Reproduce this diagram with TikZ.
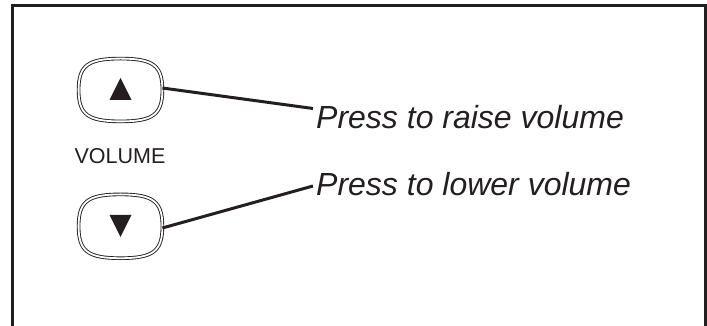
\documentclass[tikz,border=0pt]{standalone}
\usepackage{fontspec}
\setmainfont{Liberation Sans}
\usetikzlibrary{calc}
\definecolor{ink}{HTML}{231F20}
\tikzset{
  frame/.style={draw=ink, line width=3pt},
  btnbox/.style={inner sep=0pt, minimum width=83.4pt},
  btnline/.style={draw=ink, line width=0.9pt, double=white, double distance=1.8pt},
  leader/.style={draw=ink, line width=3pt},
  callout/.style={inner sep=0pt, anchor=base west, text=ink, font=\fontsize{32}{36}\selectfont\itshape},
  vollabel/.style={inner sep=0pt, anchor=base, text=ink, font=\fontsize{21.5}{24}\selectfont},
}
\newcommand\btnshape[2]{%
  \draw[btnline] (#1.north)
    .. controls ($(#1.north)!#2!(#1.north east)$) and ($(#1.east)!#2!(#1.north east)$) .. (#1.east)
    .. controls ($(#1.east)!#2!(#1.south east)$) and ($(#1.south)!#2!(#1.south east)$) .. (#1.south)
    .. controls ($(#1.south)!#2!(#1.south west)$) and ($(#1.west)!#2!(#1.south west)$) .. (#1.west)
    .. controls ($(#1.west)!#2!(#1.north west)$) and ($(#1.north)!#2!(#1.north west)$) .. (#1.north) -- cycle;}
\begin{document}
\begin{tikzpicture}[x=1pt,y=1pt]
\useasboundingbox (0,0) rectangle (707,326);
% frame (open at the bottom)
\coordinate (fbl) at (12.5,0);
\coordinate (ftl) at (12.5,320.5);
\coordinate (ftr) at (705.5,320.5);
\coordinate (fbr) at (705.5,0);
\draw[frame] (fbl) -- (ftl) -- (ftr) -- (fbr);
% buttons
\node[btnbox, minimum height=62.4pt] (up) at (120.5,236) {};
\node[btnbox, minimum height=63.4pt] (down) at (120.5,99.7) {};
\btnshape{up}{0.78}
\btnshape{down}{0.78}
\fill[ink] (109.5,226) -- (131.5,226) -- (120.5,248) -- cycle;
\fill[ink] (109.5,111) -- (131.5,111) -- (120.5,89) -- cycle;
% label
\node[vollabel] (vol) at (120,162) {VOLUME};
% callouts
\node[callout] (raise) at (316,197.7) {Press to raise volume};
\node[callout] (lower) at (316,130) {Press to lower volume};
\coordinate (re) at (313,217.5);
\coordinate (le) at (313,140);
\draw[leader] ([yshift=2pt]up.east) -- (re);
\draw[leader] ([yshift=-1.7pt]down.east) -- (le);
\end{tikzpicture}
\end{document}
